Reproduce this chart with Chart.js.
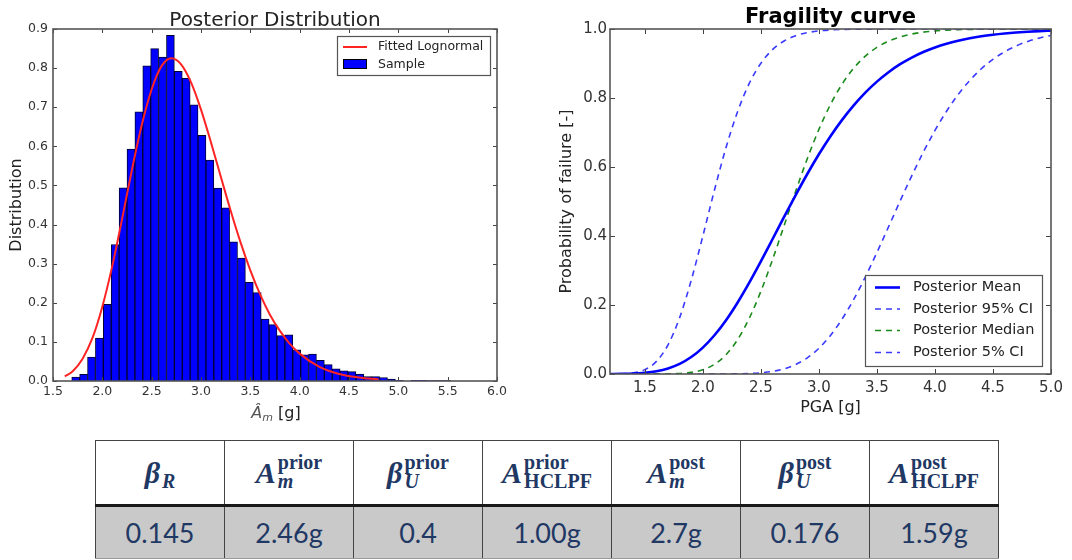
<!DOCTYPE html>
<html><head><meta charset="utf-8">
<script src="https://cdn.jsdelivr.net/npm/chart.js@4.4.1/dist/chart.umd.min.js"></script>
<style>
html,body{margin:0;padding:0;background:#fff;width:1072px;height:560px;overflow:hidden;position:relative}
#c1{position:absolute;left:0;top:0}
#c2{position:absolute;left:540px;top:0}
table{position:absolute;left:95px;top:440px;border-collapse:collapse;table-layout:fixed}
td{width:128px;border:1px solid #444;text-align:center;color:#1f3864;padding:0;overflow:hidden}
tr.h td{height:63px;background:#fff;border-bottom:3px solid #1a1a1a}
tr.v td{height:51px;background:#c9c9c9;font:27px Lato,"Open Sans",sans-serif;border-bottom:1px solid #999}
.mx{display:inline-flex;align-items:center;color:#1f3864}
.bs{font:bold italic 30px "Liberation Serif","DejaVu Serif",serif;line-height:30px}
.sc{display:inline-flex;flex-direction:column;align-items:flex-start;margin-left:2px}
.sp{font:bold 20px "Liberation Serif","DejaVu Serif",serif;line-height:17px}
.sb{font:bold italic 20px "Liberation Serif","DejaVu Serif",serif;line-height:20px}
.sb.up{font-style:normal}
</style></head>
<body>
<canvas id="c1" width="520" height="425"></canvas>
<canvas id="c2" width="532" height="425"></canvas>
<table><tr class="h" id="hdr"></tr><tr class="v" id="vals"></tr></table>
<script>
// ---------- Histogram (posterior distribution) ----------
const histBinCenters = [1.73,1.81,1.89,1.97,2.05,2.13,2.21,2.29,2.37,2.45,2.53,2.61,2.69,2.77,2.85,2.93,3.01,3.09,3.17,3.25,3.33,3.41,3.49,3.57,3.65,3.73,3.81,3.89,3.97,4.05,4.13,4.21,4.29,4.37,4.45,4.53,4.61,4.69,4.77,4.85,4.93,5.01,5.09,5.17,5.25,5.33,5.41,5.49];
const histDensity = [0.010,0.017,0.061,0.110,0.196,0.349,0.494,0.593,0.688,0.806,0.850,0.828,0.884,0.792,0.774,0.706,0.628,0.565,0.493,0.443,0.356,0.314,0.252,0.226,0.158,0.144,0.116,0.118,0.080,0.067,0.069,0.053,0.042,0.031,0.026,0.024,0.018,0.011,0.011,0.009,0.005,0.002,0.000,0.002,0.002,0.001,0.001,0.001];
const fitX = [1.62,1.7,1.8,1.9,2.0,2.1,2.2,2.3,2.4,2.5,2.6,2.7,2.8,2.9,3.0,3.1,3.2,3.3,3.4,3.5,3.6,3.7,3.8,3.9,4.0,4.2,4.4,4.6,4.8];
const fitY = [0.012,0.025,0.057,0.110,0.190,0.293,0.414,0.540,0.655,0.746,0.805,0.825,0.809,0.763,0.694,0.611,0.523,0.436,0.355,0.283,0.221,0.169,0.128,0.095,0.070,0.036,0.018,0.009,0.004];
const histXTicks = [1.5,2.0,2.5,3.0,3.5,4.0,4.5,5.0,5.5,6.0];
const histYTicks = [0.0,0.1,0.2,0.3,0.4,0.5,0.6,0.7,0.8,0.9];

// ---------- Fragility curves ----------
const pgaX = [1.2,1.3,1.4,1.5,1.6,1.7,1.8,1.9,2.0,2.1,2.2,2.3,2.4,2.5,2.6,2.7,2.8,2.9,3.0,3.1,3.2,3.3,3.4,3.5,3.6,3.7,3.8,3.9,4.0,4.1,4.2,4.3,4.4,4.5,4.6,4.7,4.8,4.9,5.0];
const pfMean = [0.0001,0.0005,0.0014,0.0036,0.0080,0.0161,0.0293,0.0491,0.0766,0.1123,0.1561,0.2074,0.2647,0.3264,0.3906,0.4553,0.5188,0.5797,0.6368,0.6892,0.7366,0.7787,0.8156,0.8475,0.8748,0.8979,0.9172,0.9333,0.9465,0.9573,0.9660,0.9731,0.9788,0.9833,0.9869,0.9898,0.9921,0.9938,0.9952];
const pf95 = [0.0001,0.0006,0.0033,0.0126,0.0365,0.0846,0.1634,0.2717,0.3998,0.5329,0.6567,0.7611,0.8422,0.9006,0.9401,0.9653,0.9806,0.9895,0.9945,0.9972,0.9986,0.9993,0.9997,0.9999,1,1,1,1,1,1,1,1,1,1,1,1,1,1,1];
const pfMedian = [0,0,0,0,0,0.0004,0.0015,0.0047,0.0124,0.0281,0.0560,0.0999,0.1614,0.2397,0.3311,0.4299,0.5296,0.6241,0.7089,0.7812,0.8402,0.8864,0.9212,0.9466,0.9647,0.9771,0.9854,0.9909,0.9944,0.9966,0.9980,0.9988,0.9993,0.9996,0.9997,0.9998,0.9999,0.9999,1.0];
const pf5 = [0,0,0,0,0,0,0,0,0,0,0,0.0005,0.0014,0.0035,0.0076,0.0150,0.0275,0.0468,0.0746,0.1119,0.1593,0.2161,0.2812,0.3522,0.4265,0.5015,0.5744,0.6431,0.7059,0.7617,0.8100,0.8509,0.8847,0.9121,0.9339,0.9509,0.9640,0.9739,0.9812];
const fragXTicks = [1.5,2.0,2.5,3.0,3.5,4.0,4.5,5.0];
const fragYTicks = [0.0,0.2,0.4,0.6,0.8,1.0];
const fragLabels = ['Posterior Mean','Posterior 95% CI','Posterior Median','Posterior 5% CI'];

// ---------- Table ----------
const headerBase = ['β','A','β','A','A','β','A'];
const headerSup  = ['','prior','prior','prior','post','post','post'];
const headerSub  = ['R','m','U','HCLPF','m','U','HCLPF'];
const tableValues = ['0.145','2.46g','0.4','1.00g','2.7g','0.176','1.59g'];

const FONT = '"DejaVu Sans", sans-serif';

function decor(cfg){
  return {
    id:'decor'+cfg.key,
    afterDraw(chart){
      const ctx=chart.ctx, a=chart.chartArea, sx=chart.scales.x, sy=chart.scales.y;
      ctx.save();
      ctx.strokeStyle='#444'; ctx.lineWidth=1;
      ctx.beginPath();
      sx.ticks.forEach(t=>{const p=Math.round(sx.getPixelForValue(t.value))+0.5;
        ctx.moveTo(p,a.bottom); ctx.lineTo(p,a.bottom-cfg.tickLen);
        ctx.moveTo(p,a.top); ctx.lineTo(p,a.top+cfg.tickLen);});
      sy.ticks.forEach(t=>{const p=Math.round(sy.getPixelForValue(t.value))+0.5;
        ctx.moveTo(a.left,p); ctx.lineTo(a.left+cfg.tickLen,p);
        ctx.moveTo(a.right,p); ctx.lineTo(a.right-cfg.tickLen,p);});
      ctx.stroke();
      ctx.strokeStyle='#555'; ctx.lineWidth=1.6;
      ctx.strokeRect(a.left,a.top,a.right-a.left,a.bottom-a.top);
      cfg.draw(ctx,a);
      ctx.restore();
    }
  };
}

function scaleOpts(min,max,ticks,size,pad,fit,isX){
  return {
    type:'linear', min, max, offset:false,
    grid:{display:false,drawTicks:false}, border:{display:false},
    ticks:{font:{family:'DejaVu Sans',size}, color:'#333', padding:pad, autoSkip:false, maxRotation:0,
      callback:v=>Number(v).toFixed(1)},
    afterBuildTicks:s=>{s.ticks=ticks.map(v=>({value:v}));},
    afterFit:s=>{ if(isX) s.height=fit; else s.width=fit; }
  };
}

// Left chart
new Chart(document.getElementById('c1'),{
  type:'bar',
  data:{datasets:[
    {type:'line',label:'Fitted Lognormal',data:fitX.map((x,i)=>({x,y:fitY[i]})),
     borderColor:'#ff2424',borderWidth:2,pointRadius:0,cubicInterpolationMode:'monotone',order:0},
    {type:'bar',label:'Sample',data:histBinCenters.map((x,i)=>({x,y:histDensity[i]})),
     backgroundColor:'#0000ff',borderColor:'#000030',borderWidth:1,barPercentage:1,categoryPercentage:1,order:1}
  ]},
  options:{responsive:false,animation:false,events:[],
    layout:{padding:{left:0,right:23,top:29,bottom:0}},
    plugins:{legend:{display:false},tooltip:{enabled:false}},
    scales:{
      x:scaleOpts(1.5,6.0,histXTicks,12.5,3,44,true),
      y:scaleOpts(0,0.9,histYTicks,12.5,5,53,false)
    }},
  plugins:[decor({key:1,tickLen:4,draw(ctx,a){
    const cx=(a.left+a.right)/2;
    ctx.fillStyle='#222'; ctx.textAlign='center'; ctx.textBaseline='alphabetic';
    ctx.font='20px '+FONT; ctx.fillText('Posterior Distribution',cx,26);
    // y label
    ctx.save(); ctx.translate(17,(a.top+a.bottom)/2); ctx.rotate(-Math.PI/2);
    ctx.font='16px '+FONT; ctx.textBaseline='middle'; ctx.fillText('Distribution',0,0); ctx.restore();
    // x label  Â_m [g]
    ctx.textAlign='left';
    const f1='italic 16px '+FONT, f2='italic 11px '+FONT, f3='16px '+FONT;
    ctx.font=f1; const w1=ctx.measureText('Â').width;
    ctx.font=f2; const w2=ctx.measureText('m').width;
    ctx.font=f3; const w3=ctx.measureText(' [g]').width;
    let x0=cx+1-(w1+w2+w3)/2, by=418;
    ctx.fillStyle='#555';
    ctx.font=f1; ctx.fillText('Â',x0,by);
    ctx.font=f2; ctx.fillText('m',x0+w1,by+3);
    ctx.fillStyle='#222';
    ctx.font=f3; ctx.fillText(' [g]',x0+w1+w2,by);
    // legend
    ctx.fillStyle='#fff'; ctx.fillRect(337,36,154,40);
    ctx.strokeStyle='#555'; ctx.lineWidth=1.2; ctx.strokeRect(337.5,36.5,153,39);
    ctx.strokeStyle='#ff2424'; ctx.lineWidth=2;
    ctx.beginPath(); ctx.moveTo(343,47); ctx.lineTo(367,47); ctx.stroke();
    ctx.fillStyle='#0000ff'; ctx.fillRect(343,59,24,10);
    ctx.strokeStyle='#000'; ctx.lineWidth=1; ctx.strokeRect(343.5,59.5,23,9);
    ctx.fillStyle='#222'; ctx.font='12.5px '+FONT; ctx.textBaseline='middle';
    ctx.fillText('Fitted Lognormal',378,47); ctx.fillText('Sample',378,64.5);
  }})]
});

// Right chart
const fragStyles=[
  {data:pfMean,color:'#0000ff',width:2.6,dash:[]},
  {data:pf95,color:'#3a3aff',width:1.6,dash:[6,5]},
  {data:pfMedian,color:'#1a8a1a',width:1.6,dash:[6,5]},
  {data:pf5,color:'#3a3aff',width:1.6,dash:[6,5]}
];
new Chart(document.getElementById('c2'),{
  type:'line',
  data:{datasets:fragStyles.map((s,k)=>({label:fragLabels[k],
    data:pgaX.map((x,i)=>({x,y:s.data[i]})),borderColor:s.color,borderWidth:s.width,borderDash:s.dash,
    pointRadius:0,cubicInterpolationMode:'monotone',fill:false}))},
  options:{responsive:false,animation:false,events:[],
    layout:{padding:{left:0,right:21,top:29,bottom:0}},
    plugins:{legend:{display:false},tooltip:{enabled:false}},
    scales:{
      x:scaleOpts(1.2,5.0,fragXTicks,15,5,51,true),
      y:scaleOpts(0,1.0,fragYTicks,15,3,70,false)
    }},
  plugins:[decor({key:2,tickLen:5,draw(ctx,a){
    const cx=(a.left+a.right)/2;
    ctx.fillStyle='#000'; ctx.textAlign='center'; ctx.textBaseline='alphabetic';
    ctx.font='bold 21px '+FONT; ctx.fillText('Fragility curve',cx,23);
    ctx.fillStyle='#222';
    ctx.font='16px '+FONT; ctx.fillText('PGA [g]',cx,412);
    ctx.save(); ctx.translate(27,(a.top+a.bottom)/2); ctx.rotate(-Math.PI/2);
    ctx.textBaseline='middle'; ctx.fillText('Probability of failure [-]',0,0); ctx.restore();
    // legend
    ctx.fillStyle='#fff'; ctx.fillRect(325,275,178,92);
    ctx.strokeStyle='#555'; ctx.lineWidth=1.2; ctx.strokeRect(325.5,275.5,177,91);
    const ys=[287.5,309,330.5,352.5];
    fragStyles.forEach((s,k)=>{
      ctx.strokeStyle=s.color; ctx.lineWidth=s.width; ctx.setLineDash(s.dash.length?[6,5]:[]);
      ctx.beginPath(); ctx.moveTo(335,ys[k]); ctx.lineTo(360,ys[k]); ctx.stroke();
    });
    ctx.setLineDash([]);
    ctx.fillStyle='#222'; ctx.font='14.5px '+FONT; ctx.textAlign='left'; ctx.textBaseline='middle';
    fragLabels.forEach((t,k)=>ctx.fillText(t,373,ys[k]));
  }})]
});

// Table
const hdr=document.getElementById('hdr'), vals=document.getElementById('vals');
headerBase.forEach((b,i)=>{
  const td=document.createElement('td');
  const sub=headerSub[i], sup=headerSup[i];
  td.innerHTML='<span class="mx"><span class="bs">'+b+'</span><span class="sc"><span class="sp">'+(sup||'&#8203;')+
    '</span><span class="sb'+(sub.length>1?' up':'')+'">'+sub+'</span></span></span>';
  hdr.appendChild(td);
  const tv=document.createElement('td'); tv.textContent=tableValues[i]; vals.appendChild(tv);
});
</script>
</body></html>
